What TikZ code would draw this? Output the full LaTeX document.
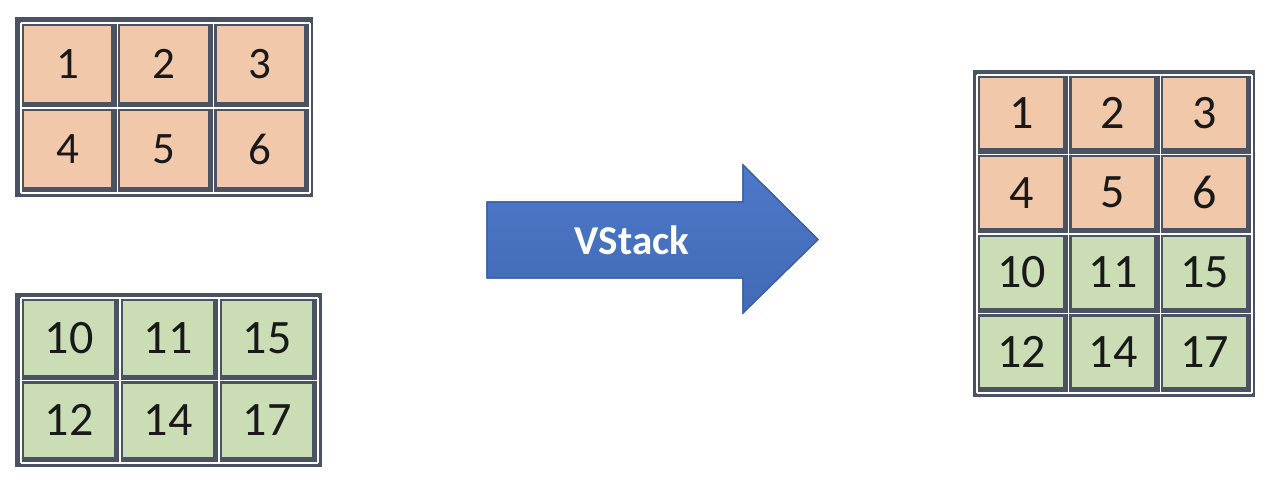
\documentclass[tikz,border=0pt]{standalone}
\usepackage{fontspec}
\setmainfont{Carlito}
\definecolor{framec}{HTML}{4A5263}
\definecolor{peach}{HTML}{F2C8AA}
\definecolor{sage}{HTML}{CADDB5}
\definecolor{arrowtop}{HTML}{4D79C8}
\definecolor{arrowbot}{HTML}{416AB8}
\definecolor{arrowedge}{HTML}{3A5FA8}
\tikzset{
  cellbox/.style={rectangle, inner sep=0pt, outer sep=0pt, text=black!90},
  gridline/.style={white, line width=1.4pt},
  framebox/.style={fill=framec},
}
\begin{document}
\begin{tikzpicture}[x=1pt,y=-1pt]
\fill[white] (0,0) rectangle (1274,486);
\useasboundingbox (0,0) rectangle (1274,486);

% ---------- table 1 ----------
\def\xo{21}\def\yo{23}\def\cw{96.33}\def\ch{85}
\fill[framebox] (15,17) rectangle (313,197);
\foreach \i in {0,...,3} \draw[gridline] (\xo+\i*\cw,\yo) -- (\xo+\i*\cw,\yo+2*\ch);
\foreach \j in {0,...,2} \draw[gridline] (\xo,\yo+\j*\ch) -- (\xo+3*\cw,\yo+\j*\ch);
\foreach \row [count=\r from 0] in {{1,2,3},{4,5,6}}{
  \foreach \v [count=\c from 0] in \row {
    \node[cellbox, fill=peach, minimum width=\cw*1pt-9pt, minimum height=\ch*1pt-9pt,
      font=\fontsize{45}{45}\selectfont] (a-\r-\c) at (\xo+\c*\cw+\cw/2-1.5, \yo+\r*\ch+\ch/2-1.5) {\v};
  }
}

% ---------- table 2 ----------
\def\xo{21}\def\yo{298}\def\cw{99}\def\ch{82.5}
\fill[framebox] (15,293) rectangle (322,467);
\foreach \i in {0,...,3} \draw[gridline] (\xo+\i*\cw,\yo) -- (\xo+\i*\cw,\yo+2*\ch);
\foreach \j in {0,...,2} \draw[gridline] (\xo,\yo+\j*\ch) -- (\xo+3*\cw,\yo+\j*\ch);
\foreach \row [count=\r from 0] in {{10,11,15},{12,14,17}}{
  \foreach \v [count=\c from 0] in \row {
    \node[cellbox, fill=sage, minimum width=\cw*1pt-9pt, minimum height=\ch*1pt-9pt,
      font=\fontsize{48}{48}\selectfont] (b-\r-\c) at (\xo+\c*\cw+\cw/2-1.5, \yo+\r*\ch+\ch/2-1.5) {\v};
  }
}

% ---------- table 3 ----------
\def\xo{977}\def\yo{75}\def\cw{91.67}\def\ch{79.5}
\fill[framebox] (973,70) rectangle (1255,397);
\foreach \i in {0,...,3} \draw[gridline] (\xo+\i*\cw,\yo) -- (\xo+\i*\cw,\yo+4*\ch);
\foreach \j in {0,...,4} \draw[gridline] (\xo,\yo+\j*\ch) -- (\xo+3*\cw,\yo+\j*\ch);
\foreach \row/\col [count=\r from 0] in {{1,2,3}/peach,{4,5,6}/peach,{10,11,15}/sage,{12,14,17}/sage}{
  \foreach \v [count=\c from 0] in \row {
    \node[cellbox, fill=\col, minimum width=\cw*1pt-9pt, minimum height=\ch*1pt-9pt,
      font=\fontsize{48}{48}\selectfont] (c-\r-\c) at (\xo+\c*\cw+\cw/2-1.5, \yo+\r*\ch+\ch/2-1.5) {\v};
  }
}

% ---------- arrow ----------
\shade[top color=arrowtop, bottom color=arrowbot, draw=arrowedge, line width=1.2pt, line join=miter]
  (487,202) -- (743,202) -- (743,165) -- (818,239.5) -- (743,313) -- (743,278) -- (487,278) -- cycle;
\draw[arrowedge, line width=1.2pt, line join=miter]
  (487,202) -- (743,202) -- (743,165) -- (818,239.5) -- (743,313) -- (743,278) -- (487,278) -- cycle;
\node[font=\bfseries\fontsize{41}{41}\selectfont, text=white, inner sep=0pt] (vs) at (632,240) {VStack};
\end{tikzpicture}
\end{document}
